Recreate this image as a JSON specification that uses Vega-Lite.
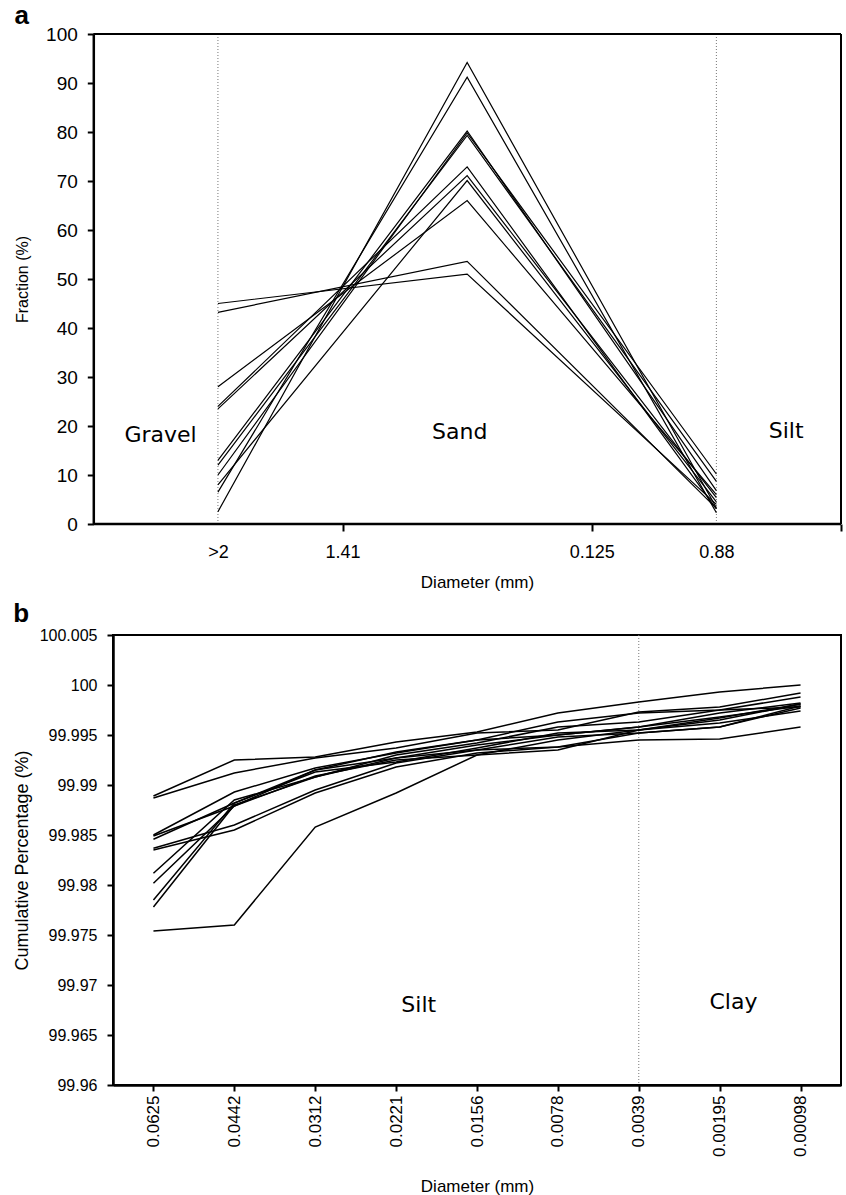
{
  "$schema": "https://vega.github.io/schema/vega-lite/v6.json",
  "padding": {"left": 12, "top": 3, "right": 4, "bottom": 0},
  "spacing": 10,
  "config": {
    "view": {"stroke": "black", "strokeWidth": 2},
    "font": "Liberation Sans",
    "axis": {
      "grid": false,
      "domainColor": "black",
      "domainWidth": 2.5,
      "tickColor": "black",
      "tickWidth": 2,
      "labelColor": "black",
      "titleColor": "black",
      "labelFont": "Liberation Sans",
      "titleFont": "Liberation Sans",
      "titleFontWeight": "normal",
      "labelFlush": false,
      "labelOverlap": false
    },
    "title": {"font": "Liberation Sans", "fontWeight": "bold", "fontSize": 26, "color": "black", "anchor": "start", "frame": "bounds"}
  },
  "datasets": {
    "fractions": [
      {"sample": 1, "size": "Gravel", "cls": 0, "fraction": 2.5},
      {"sample": 1, "size": "Sand", "cls": 1, "fraction": 94.2},
      {"sample": 1, "size": "Silt", "cls": 2, "fraction": 3.3},
      {"sample": 2, "size": "Gravel", "cls": 0, "fraction": 6.5},
      {"sample": 2, "size": "Sand", "cls": 1, "fraction": 91.2},
      {"sample": 2, "size": "Silt", "cls": 2, "fraction": 2.3},
      {"sample": 3, "size": "Gravel", "cls": 0, "fraction": 13},
      {"sample": 3, "size": "Sand", "cls": 1, "fraction": 80.2},
      {"sample": 3, "size": "Silt", "cls": 2, "fraction": 6.8},
      {"sample": 4, "size": "Gravel", "cls": 0, "fraction": 10},
      {"sample": 4, "size": "Sand", "cls": 1, "fraction": 79.8},
      {"sample": 4, "size": "Silt", "cls": 2, "fraction": 10.2},
      {"sample": 5, "size": "Gravel", "cls": 0, "fraction": 12},
      {"sample": 5, "size": "Sand", "cls": 1, "fraction": 79.3},
      {"sample": 5, "size": "Silt", "cls": 2, "fraction": 8.7},
      {"sample": 6, "size": "Gravel", "cls": 0, "fraction": 24},
      {"sample": 6, "size": "Sand", "cls": 1, "fraction": 72.9},
      {"sample": 6, "size": "Silt", "cls": 2, "fraction": 3.1},
      {"sample": 7, "size": "Gravel", "cls": 0, "fraction": 23.5},
      {"sample": 7, "size": "Sand", "cls": 1, "fraction": 71.1},
      {"sample": 7, "size": "Silt", "cls": 2, "fraction": 5.4},
      {"sample": 8, "size": "Gravel", "cls": 0, "fraction": 8},
      {"sample": 8, "size": "Sand", "cls": 1, "fraction": 70.1},
      {"sample": 8, "size": "Silt", "cls": 2, "fraction": 4.5},
      {"sample": 9, "size": "Gravel", "cls": 0, "fraction": 28},
      {"sample": 9, "size": "Sand", "cls": 1, "fraction": 66.0},
      {"sample": 9, "size": "Silt", "cls": 2, "fraction": 6.0},
      {"sample": 10, "size": "Gravel", "cls": 0, "fraction": 43.2},
      {"sample": 10, "size": "Sand", "cls": 1, "fraction": 53.6},
      {"sample": 10, "size": "Silt", "cls": 2, "fraction": 3.2},
      {"sample": 11, "size": "Gravel", "cls": 0, "fraction": 45},
      {"sample": 11, "size": "Sand", "cls": 1, "fraction": 51.0},
      {"sample": 11, "size": "Silt", "cls": 2, "fraction": 4.0}
    ],
    "cumulative": [
      {"sample": 1, "cls": 0, "diameter": "0.0625", "pct": 99.9889},
      {"sample": 1, "cls": 1, "diameter": "0.0442", "pct": 99.9925},
      {"sample": 1, "cls": 2, "diameter": "0.0312", "pct": 99.9928},
      {"sample": 1, "cls": 3, "diameter": "0.0221", "pct": 99.9943},
      {"sample": 1, "cls": 4, "diameter": "0.0156", "pct": 99.9953},
      {"sample": 1, "cls": 5, "diameter": "0.0078", "pct": 99.9972},
      {"sample": 1, "cls": 6, "diameter": "0.0039", "pct": 99.9983},
      {"sample": 1, "cls": 7, "diameter": "0.00195", "pct": 99.9993},
      {"sample": 1, "cls": 8, "diameter": "0.00098", "pct": 100.0},
      {"sample": 2, "cls": 0, "diameter": "0.0625", "pct": 99.9887},
      {"sample": 2, "cls": 1, "diameter": "0.0442", "pct": 99.9912},
      {"sample": 2, "cls": 2, "diameter": "0.0312", "pct": 99.9927},
      {"sample": 2, "cls": 3, "diameter": "0.0221", "pct": 99.9937},
      {"sample": 2, "cls": 4, "diameter": "0.0156", "pct": 99.9952},
      {"sample": 2, "cls": 5, "diameter": "0.0078", "pct": 99.9955},
      {"sample": 2, "cls": 6, "diameter": "0.0039", "pct": 99.9973},
      {"sample": 2, "cls": 7, "diameter": "0.00195", "pct": 99.9978},
      {"sample": 2, "cls": 8, "diameter": "0.00098", "pct": 99.9992},
      {"sample": 3, "cls": 0, "diameter": "0.0625", "pct": 99.985},
      {"sample": 3, "cls": 1, "diameter": "0.0442", "pct": 99.9893},
      {"sample": 3, "cls": 2, "diameter": "0.0312", "pct": 99.9917},
      {"sample": 3, "cls": 3, "diameter": "0.0221", "pct": 99.9932},
      {"sample": 3, "cls": 4, "diameter": "0.0156", "pct": 99.9945},
      {"sample": 3, "cls": 5, "diameter": "0.0078", "pct": 99.9963},
      {"sample": 3, "cls": 6, "diameter": "0.0039", "pct": 99.9972},
      {"sample": 3, "cls": 7, "diameter": "0.00195", "pct": 99.9975},
      {"sample": 3, "cls": 8, "diameter": "0.00098", "pct": 99.9988},
      {"sample": 4, "cls": 0, "diameter": "0.0625", "pct": 99.9849},
      {"sample": 4, "cls": 1, "diameter": "0.0442", "pct": 99.9879},
      {"sample": 4, "cls": 2, "diameter": "0.0312", "pct": 99.9915},
      {"sample": 4, "cls": 3, "diameter": "0.0221", "pct": 99.9927},
      {"sample": 4, "cls": 4, "diameter": "0.0156", "pct": 99.994},
      {"sample": 4, "cls": 5, "diameter": "0.0078", "pct": 99.995},
      {"sample": 4, "cls": 6, "diameter": "0.0039", "pct": 99.9958},
      {"sample": 4, "cls": 7, "diameter": "0.00195", "pct": 99.9972},
      {"sample": 4, "cls": 8, "diameter": "0.00098", "pct": 99.9982},
      {"sample": 5, "cls": 0, "diameter": "0.0625", "pct": 99.98457},
      {"sample": 5, "cls": 1, "diameter": "0.0442", "pct": 99.9882},
      {"sample": 5, "cls": 2, "diameter": "0.0312", "pct": 99.9913},
      {"sample": 5, "cls": 3, "diameter": "0.0221", "pct": 99.9923},
      {"sample": 5, "cls": 4, "diameter": "0.0156", "pct": 99.9937},
      {"sample": 5, "cls": 5, "diameter": "0.0078", "pct": 99.9952},
      {"sample": 5, "cls": 6, "diameter": "0.0039", "pct": 99.9955},
      {"sample": 5, "cls": 7, "diameter": "0.00195", "pct": 99.9967},
      {"sample": 5, "cls": 8, "diameter": "0.00098", "pct": 99.9981},
      {"sample": 6, "cls": 0, "diameter": "0.0625", "pct": 99.98367},
      {"sample": 6, "cls": 1, "diameter": "0.0442", "pct": 99.986},
      {"sample": 6, "cls": 2, "diameter": "0.0312", "pct": 99.9895},
      {"sample": 6, "cls": 3, "diameter": "0.0221", "pct": 99.9922},
      {"sample": 6, "cls": 4, "diameter": "0.0156", "pct": 99.9935},
      {"sample": 6, "cls": 5, "diameter": "0.0078", "pct": 99.9948},
      {"sample": 6, "cls": 6, "diameter": "0.0039", "pct": 99.9952},
      {"sample": 6, "cls": 7, "diameter": "0.00195", "pct": 99.9958},
      {"sample": 6, "cls": 8, "diameter": "0.00098", "pct": 99.9979},
      {"sample": 7, "cls": 0, "diameter": "0.0625", "pct": 99.9835},
      {"sample": 7, "cls": 1, "diameter": "0.0442", "pct": 99.9855},
      {"sample": 7, "cls": 2, "diameter": "0.0312", "pct": 99.9892},
      {"sample": 7, "cls": 3, "diameter": "0.0221", "pct": 99.9918},
      {"sample": 7, "cls": 4, "diameter": "0.0156", "pct": 99.9932},
      {"sample": 7, "cls": 5, "diameter": "0.0078", "pct": 99.9938},
      {"sample": 7, "cls": 6, "diameter": "0.0039", "pct": 99.9945},
      {"sample": 7, "cls": 7, "diameter": "0.00195", "pct": 99.9946},
      {"sample": 7, "cls": 8, "diameter": "0.00098", "pct": 99.9958},
      {"sample": 8, "cls": 0, "diameter": "0.0625", "pct": 99.98117},
      {"sample": 8, "cls": 1, "diameter": "0.0442", "pct": 99.9885},
      {"sample": 8, "cls": 2, "diameter": "0.0312", "pct": 99.9908},
      {"sample": 8, "cls": 3, "diameter": "0.0221", "pct": 99.9927},
      {"sample": 8, "cls": 4, "diameter": "0.0156", "pct": 99.9935},
      {"sample": 8, "cls": 5, "diameter": "0.0078", "pct": 99.9938},
      {"sample": 8, "cls": 6, "diameter": "0.0039", "pct": 99.9952},
      {"sample": 8, "cls": 7, "diameter": "0.00195", "pct": 99.9958},
      {"sample": 8, "cls": 8, "diameter": "0.00098", "pct": 99.9977},
      {"sample": 9, "cls": 0, "diameter": "0.0625", "pct": 99.98017},
      {"sample": 9, "cls": 1, "diameter": "0.0442", "pct": 99.9879},
      {"sample": 9, "cls": 2, "diameter": "0.0312", "pct": 99.9909},
      {"sample": 9, "cls": 3, "diameter": "0.0221", "pct": 99.9925},
      {"sample": 9, "cls": 4, "diameter": "0.0156", "pct": 99.993},
      {"sample": 9, "cls": 5, "diameter": "0.0078", "pct": 99.9935},
      {"sample": 9, "cls": 6, "diameter": "0.0039", "pct": 99.9955},
      {"sample": 9, "cls": 7, "diameter": "0.00195", "pct": 99.9962},
      {"sample": 9, "cls": 8, "diameter": "0.00098", "pct": 99.9974},
      {"sample": 10, "cls": 0, "diameter": "0.0625", "pct": 99.9785},
      {"sample": 10, "cls": 1, "diameter": "0.0442", "pct": 99.9882},
      {"sample": 10, "cls": 2, "diameter": "0.0312", "pct": 99.9915},
      {"sample": 10, "cls": 3, "diameter": "0.0221", "pct": 99.9933},
      {"sample": 10, "cls": 4, "diameter": "0.0156", "pct": 99.9945},
      {"sample": 10, "cls": 5, "diameter": "0.0078", "pct": 99.995},
      {"sample": 10, "cls": 6, "diameter": "0.0039", "pct": 99.9958},
      {"sample": 10, "cls": 7, "diameter": "0.00195", "pct": 99.9968},
      {"sample": 10, "cls": 8, "diameter": "0.00098", "pct": 99.9979},
      {"sample": 11, "cls": 0, "diameter": "0.0625", "pct": 99.9778},
      {"sample": 11, "cls": 1, "diameter": "0.0442", "pct": 99.988},
      {"sample": 11, "cls": 2, "diameter": "0.0312", "pct": 99.9908},
      {"sample": 11, "cls": 3, "diameter": "0.0221", "pct": 99.993},
      {"sample": 11, "cls": 4, "diameter": "0.0156", "pct": 99.9942},
      {"sample": 11, "cls": 5, "diameter": "0.0078", "pct": 99.9958},
      {"sample": 11, "cls": 6, "diameter": "0.0039", "pct": 99.9963},
      {"sample": 11, "cls": 7, "diameter": "0.00195", "pct": 99.9975},
      {"sample": 11, "cls": 8, "diameter": "0.00098", "pct": 99.9978},
      {"sample": 12, "cls": 0, "diameter": "0.0625", "pct": 99.9754},
      {"sample": 12, "cls": 1, "diameter": "0.0442", "pct": 99.976},
      {"sample": 12, "cls": 2, "diameter": "0.0312", "pct": 99.9858},
      {"sample": 12, "cls": 3, "diameter": "0.0221", "pct": 99.9892},
      {"sample": 12, "cls": 4, "diameter": "0.0156", "pct": 99.993},
      {"sample": 12, "cls": 5, "diameter": "0.0078", "pct": 99.9945},
      {"sample": 12, "cls": 6, "diameter": "0.0039", "pct": 99.9955},
      {"sample": 12, "cls": 7, "diameter": "0.00195", "pct": 99.9965},
      {"sample": 12, "cls": 8, "diameter": "0.00098", "pct": 99.9981}
    ],
    "zonesA": [
      {"zone": "Gravel", "cls": -0.23, "fraction": 18.2},
      {"zone": "Sand", "cls": 0.97, "fraction": 18.8},
      {"zone": "Silt", "cls": 2.28, "fraction": 19.0}
    ],
    "zonesB": [
      {"zone": "Silt", "cls": 3.28, "pct": 99.968},
      {"zone": "Clay", "cls": 7.17, "pct": 99.9683}
    ],
    "boundsA": [{"cls": 0}, {"cls": 2}],
    "boundsB": [{"cls": 6}],
    "frameA": [{"x1": -0.5, "x2": 2.5, "ybottom": 0, "ytop": 100}]
  },
  "vconcat": [
    {
      "width": 728,
      "height": 490,
      "view": {"stroke": null},
      "title": {"text": "a", "offset": -4},
      "layer": [
        {
          "data": {"name": "boundsA"},
          "mark": {"type": "rule", "color": "#777777", "strokeDash": [1, 2], "strokeWidth": 1},
          "encoding": {"x": {"field": "cls", "type": "quantitative"}}
        },
        {
          "data": {"name": "fractions"},
          "mark": {"type": "line", "color": "black", "strokeWidth": 1.2},
          "encoding": {
            "x": {
              "field": "cls", "type": "quantitative",
              "scale": {"domain": [-0.421, 2.5], "nice": false, "zero": false},
              "axis": {
                "values": [0, 0.5, 1.5, 2, 2.5],
                "domain": false,
                "labelExpr": "datum.value == 0 ? '>2' : datum.value == 0.5 ? '1.41' : datum.value == 1.5 ? '0.125' : datum.value == 2 ? '0.88' : ''",
                "tickColor": {"condition": {"test": "datum.value == 0 || datum.value == 2", "value": "transparent"}, "value": "black"},
                "tickSize": 7,
                "labelFontSize": 18,
                "labelPadding": 12,
                "title": "Diameter (mm)",
                "titleFontSize": 17,
                "titlePadding": 13
              }
            },
            "y": {
              "field": "fraction", "type": "quantitative",
              "scale": {"domain": [0, 100], "nice": false},
              "axis": {
                "values": [0, 10, 20, 30, 40, 50, 60, 70, 80, 90, 100],
                "offset": 19.7,
                "tickSize": 6,
                "labelFontSize": 19,
                "labelPadding": 10,
                "title": "Fraction (%)",
                "titleFontSize": 16,
                "titlePadding": 15
              }
            },
            "detail": {"field": "sample"}
          }
        },
        {
          "data": {"name": "frameA"},
          "mark": {"type": "rule", "color": "black", "strokeWidth": 2},
          "encoding": {
            "x": {"field": "x1", "type": "quantitative"},
            "x2": {"field": "x2"},
            "y": {"field": "ytop", "type": "quantitative"}
          }
        },
        {
          "data": {"name": "frameA"},
          "mark": {"type": "rule", "color": "black", "strokeWidth": 2.5},
          "encoding": {
            "x": {"field": "x1", "type": "quantitative"},
            "x2": {"field": "x2"},
            "y": {"field": "ybottom", "type": "quantitative"}
          }
        },
        {
          "data": {"name": "frameA"},
          "mark": {"type": "rule", "color": "black", "strokeWidth": 2},
          "encoding": {
            "x": {"field": "x2", "type": "quantitative"},
            "y": {"field": "ybottom", "type": "quantitative"},
            "y2": {"field": "ytop"}
          }
        },
        {
          "data": {"name": "zonesA"},
          "mark": {"type": "text", "font": "DejaVu Sans", "fontSize": 22, "color": "black"},
          "encoding": {
            "x": {"field": "cls", "type": "quantitative"},
            "y": {"field": "fraction", "type": "quantitative"},
            "text": {"field": "zone"}
          }
        }
      ]
    },
    {
      "width": 728,
      "height": 450,
      "title": {"text": "b", "offset": 0},
      "layer": [
        {
          "data": {"name": "boundsB"},
          "mark": {"type": "rule", "color": "#777777", "strokeDash": [1, 2], "strokeWidth": 1},
          "encoding": {"x": {"field": "cls", "type": "quantitative"}}
        },
        {
          "data": {"name": "cumulative"},
          "mark": {"type": "line", "color": "black", "strokeWidth": 1.5},
          "encoding": {
            "x": {
              "field": "cls", "type": "quantitative",
              "scale": {"domain": [-0.5, 8.5], "nice": false, "zero": false},
              "axis": {
                "values": [0, 1, 2, 3, 4, 5, 6, 7, 8],
                "labelExpr": "['0.0625','0.0442','0.0312','0.0221','0.0156','0.0078','0.0039','0.00195','0.00098'][datum.value]",
                "labelAngle": -90,
                "tickSize": 6,
                "labelFontSize": 17,
                "labelPadding": 4,
                "title": "Diameter (mm)",
                "titleFontSize": 17,
                "titlePadding": 22
              }
            },
            "y": {
              "field": "pct", "type": "quantitative",
              "scale": {"domain": [99.96, 100.005], "nice": false, "zero": false},
              "axis": {
                "values": [99.96, 99.965, 99.97, 99.975, 99.98, 99.985, 99.99, 99.995, 100, 100.005],
                "format": ".3~f",
                "tickSize": 6,
                "labelFontSize": 16,
                "labelPadding": 10,
                "title": "Cumulative Percentage (%)",
                "titleFontSize": 18,
                "titlePadding": 8
              }
            },
            "detail": {"field": "sample"}
          }
        },
        {
          "data": {"name": "zonesB"},
          "mark": {"type": "text", "font": "DejaVu Sans", "fontSize": 22, "color": "black"},
          "encoding": {
            "x": {"field": "cls", "type": "quantitative"},
            "y": {"field": "pct", "type": "quantitative"},
            "text": {"field": "zone"}
          }
        }
      ]
    }
  ]
}
